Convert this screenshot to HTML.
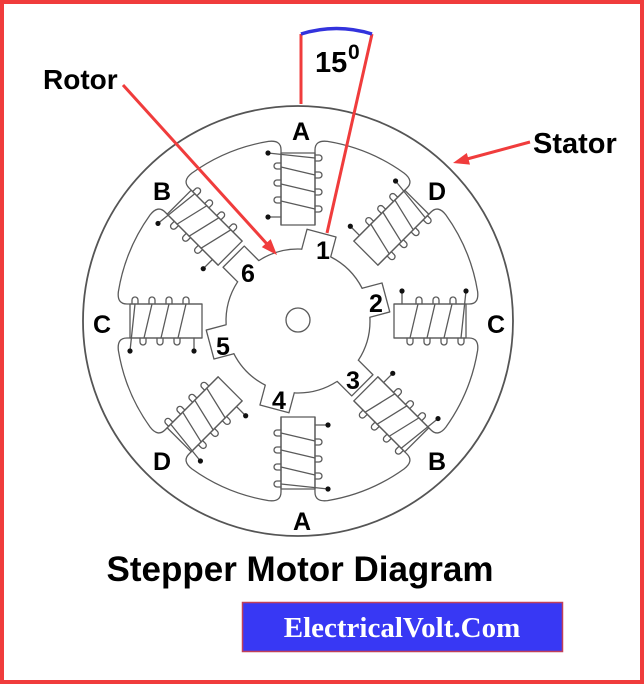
<!DOCTYPE html>
<html>
<head>
<meta charset="utf-8">
<style>
  html,body{margin:0;padding:0;background:#fff;}
  svg{display:block;}
  .s{fill:none;stroke:#5a5a5a;stroke-width:1.3;stroke-linejoin:round;stroke-linecap:round;}
  .lbl{font-family:"Liberation Sans",Arial,sans-serif;font-weight:bold;fill:#000;}
</style>
</head>
<body>
<svg width="644" height="684" viewBox="0 0 644 684" xmlns="http://www.w3.org/2000/svg">
  <defs>
    <g id="pole">
      <path class="s" d="M17,-96 L17,-171 Q17,-181.2 29.5,-179.6 A182,182 0 0 1 106.1,-147.9 Q116.1,-140.1 109.0,-133.0 L55.86,-79.90"/>
      <rect class="s" x="-17" y="-168" width="34" height="72"/>
      <path class="s" d="M17,-115 H21 A3,3 0 0 1 21,-109 H17 M17,-132 H21 A3,3 0 0 1 21,-126 H17 M17,-149 H21 A3,3 0 0 1 21,-143 H17 M17,-166 H21 A3,3 0 0 1 21,-160 H17"/>
      <path class="s" d="M-17,-124 H-21 A3,3 0 0 0 -21,-118 H-17 M-17,-141 H-21 A3,3 0 0 0 -21,-135 H-17 M-17,-158 H-21 A3,3 0 0 0 -21,-152 H-17"/>
      <path class="s" d="M-17,-120 L17,-112 M-17,-137 L17,-129 M-17,-154 L17,-146 M-30,-168 L17,-163 M-30,-104 L-17,-104"/>
      <circle cx="-30" cy="-104" r="2.6" fill="#111"/>
      <circle cx="-30" cy="-168" r="2.6" fill="#111"/>
    </g>
    <path id="tooth" class="s" d="M-15,-70.4 L-15,-91 L15,-91 L15,-70.4 A72,72 0 0 1 53.50,-48.19"/>
  </defs>

  <!-- border -->
  <rect x="2" y="2" width="640" height="680" fill="none" stroke="#f03c3c" stroke-width="4"/>

  <!-- outer stator circle -->
  <circle cx="298" cy="321" r="215" fill="none" stroke="#555" stroke-width="1.8"/>

  <!-- poles -->
  <g transform="translate(298,321)">
    <use href="#pole" transform="rotate(0)"/>
    <use href="#pole" transform="rotate(45)"/>
    <use href="#pole" transform="rotate(90)"/>
    <use href="#pole" transform="rotate(135)"/>
    <use href="#pole" transform="rotate(180)"/>
    <use href="#pole" transform="rotate(225)"/>
    <use href="#pole" transform="rotate(270)"/>
    <use href="#pole" transform="rotate(315)"/>
    <!-- rotor -->
    <use href="#tooth" transform="rotate(15)"/>
    <use href="#tooth" transform="rotate(75)"/>
    <use href="#tooth" transform="rotate(135)"/>
    <use href="#tooth" transform="rotate(195)"/>
    <use href="#tooth" transform="rotate(255)"/>
    <use href="#tooth" transform="rotate(315)"/>
    <circle cx="0" cy="-1" r="12" class="s"/>
  </g>

  <!-- stator letters -->
  <g class="lbl" font-size="25" text-anchor="middle">
    <text x="301" y="140">A</text>
    <text x="162" y="200">B</text>
    <text x="437" y="200">D</text>
    <text x="102" y="333">C</text>
    <text x="496" y="333">C</text>
    <text x="162" y="470">D</text>
    <text x="437" y="470">B</text>
    <text x="302" y="530">A</text>
  </g>
  <!-- rotor numbers -->
  <g class="lbl" font-size="25" text-anchor="middle">
    <text x="323" y="259">1</text>
    <text x="376" y="312">2</text>
    <text x="353" y="389">3</text>
    <text x="279" y="409">4</text>
    <text x="223" y="355">5</text>
    <text x="248" y="282">6</text>
  </g>

  <!-- 15 degree marker -->
  <line x1="301" y1="34" x2="301" y2="104" stroke="#f03c3c" stroke-width="3"/>
  <line x1="372" y1="34" x2="327" y2="233" stroke="#f03c3c" stroke-width="3"/>
  <path d="M301,34 Q336.5,23 372,34" fill="none" stroke="#3333dd" stroke-width="3.5"/>
  <text class="lbl" x="315" y="72" font-size="29">15</text>
  <text class="lbl" x="348" y="59" font-size="21">0</text>

  <!-- Rotor label + arrow -->
  <text class="lbl" x="43" y="89" font-size="28">Rotor</text>
  <line x1="123" y1="85" x2="267" y2="244" stroke="#f03c3c" stroke-width="3"/>
  <polygon points="277,255 261.8,247.1 270.7,239.1" fill="#f03c3c"/>

  <!-- Stator label + arrow -->
  <text class="lbl" x="533" y="153" font-size="29">Stator</text>
  <line x1="530" y1="142" x2="467" y2="159" stroke="#f03c3c" stroke-width="3"/>
  <polygon points="453,163 466.8,153.0 470.0,164.6" fill="#f03c3c"/>

  <!-- title -->
  <text class="lbl" x="300" y="581" font-size="35" text-anchor="middle">Stepper Motor Diagram</text>

  <!-- brand box -->
  <rect x="242.5" y="602.5" width="320" height="49" fill="#3838f4" stroke="#c0405a" stroke-width="1.5"/>
  <text x="402" y="637" font-family="'Liberation Serif','Times New Roman',serif" font-weight="bold" font-size="29" fill="#fff" text-anchor="middle">ElectricalVolt.Com</text>
</svg>
</body>
</html>
